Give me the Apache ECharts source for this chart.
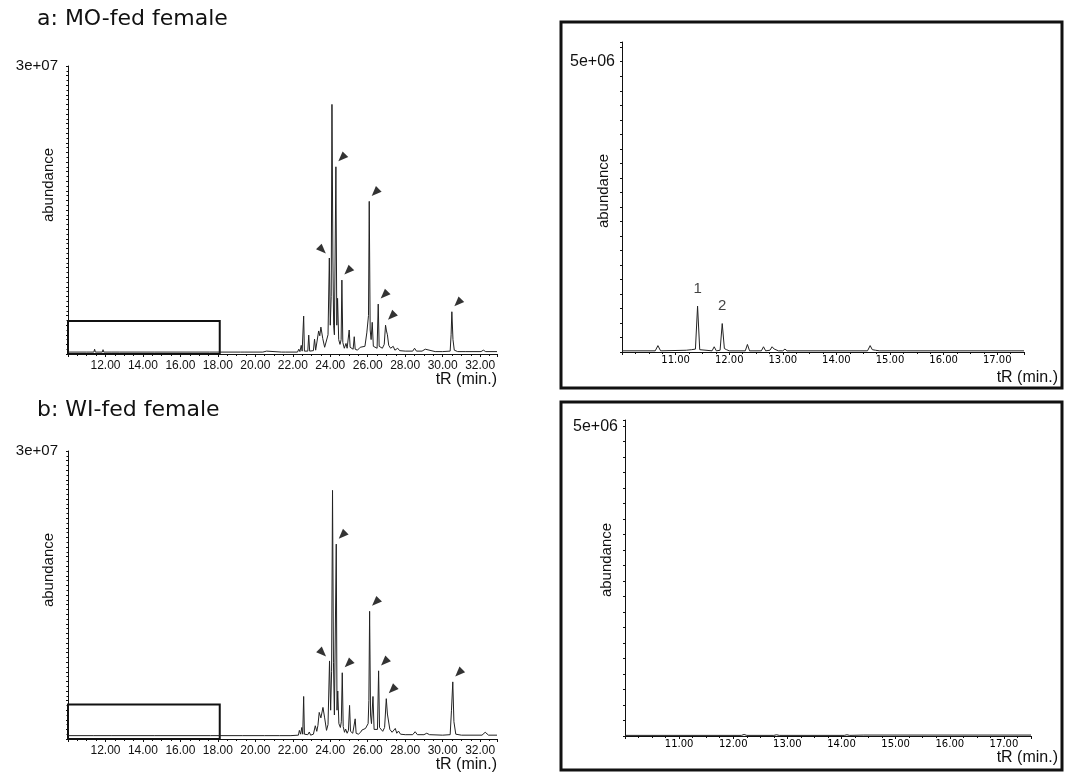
<!DOCTYPE html>
<html>
<head>
<meta charset="utf-8">
<script src="https://cdn.jsdelivr.net/npm/echarts@6/dist/echarts.min.js"></script>
<style>
html,body{margin:0;padding:0;background:#fff;}
#c{width:1070px;height:773px;}
</style>
</head>
<body>
<div id="c"></div>
<script>
// ---------- DATA ----------
const panelTitles = ['a: MO-fed female', 'b: WI-fed female'];
const yMaxLabelMain = '3e+07';
const yMaxLabelZoom = '5e+06';
const xName = 'tR (min.)';
const yName = 'abundance';

// a: full chromatogram [tR (min), abundance]
const traceA = [[10.0,0.2e6],[11.0,0.2e6],[11.38,0.2e6],[11.42,0.5e6],[11.46,0.2e6],[11.83,0.2e6],[11.87,0.45e6],[11.91,0.2e6],[12.3,0.2e6],[12.34,0.3e6],[12.38,0.2e6],[12.76,0.2e6],[12.8,0.32e6],[12.84,0.2e6],[14.6,0.2e6],[14.64,0.3e6],[14.68,0.2e6],[17.55,0.2e6],[17.6,0.3e6],[17.65,0.2e6],
[19.2,0.2e6],[19.3,0.3e6],[19.4,0.2e6],[20.4,0.2e6],[20.5,0.35e6],[20.6,0.3e6],[20.7,0.2e6],[21.4,0.2e6],[21.5,0.3e6],[21.6,0.2e6],[22.25,0.2e6],[22.32,0.5e6],[22.38,0.25e6],[22.45,0.9e6],[22.5,0.3e6],[22.54,0.3e6],[22.58,3.95e6],[22.62,0.3e6],[22.8,0.3e6],[22.85,1.97e6],[22.9,0.3e6],[23.1,0.35e6],[23.16,1.55e6],[23.22,0.4e6],[23.3,0.6e6],[23.38,2.4e6],[23.44,1.9e6],[23.5,2.8e6],[23.6,1.6e6],[23.7,0.7e6],[23.8,0.6e6],[23.88,2.0e6],[23.95,10.0e6],[24.0,3.0e6],[24.05,6e6],[24.09,26.0e6],[24.14,10e6],[24.18,3e6],[24.22,2e6],[24.3,19.5e6],[24.35,3e6],[24.39,5.8e6],[24.45,1.5e6],[24.52,1.0e6],[24.58,1.5e6],[24.62,7.7e6],[24.67,1.2e6],[24.75,0.6e6],[24.84,1.1e6],[24.9,0.6e6],[24.96,0.8e6],[25.01,2.5e6],[25.06,0.7e6],[25.15,0.5e6],[25.22,0.5e6],[25.28,1.8e6],[25.33,0.5e6],[25.45,0.4e6],[25.6,0.7e6],[25.7,0.5e6],[25.85,0.8e6],[25.95,2.2e6],[26.0,2.0e6],[26.04,4e6],[26.08,15.9e6],[26.13,2.5e6],[26.18,1.5e6],[26.24,3.3e6],[26.3,0.8e6],[26.4,0.6e6],[26.5,0.6e6],[26.56,5.2e6],[26.61,0.8e6],[26.7,1.0e6],[26.78,0.6e6],[26.88,1.0e6],[26.95,3.0e6],[27.0,2.4e6],[27.05,2.0e6],[27.12,0.9e6],[27.22,0.6e6],[27.3,0.6e6],[27.36,0.8e6],[27.45,0.4e6],[27.6,0.6e6],[27.7,0.35e6],[28.0,0.3e6],[28.4,0.3e6],[28.5,0.6e6],[28.6,0.3e6],[28.9,0.3e6],[29.0,0.45e6],[29.07,0.5e6],[29.15,0.3e6],[29.6,0.25e6],[30.0,0.25e6],[30.4,0.3e6],[30.45,2e6],[30.49,4.4e6],[30.55,1.5e6],[30.62,0.4e6],[30.8,0.25e6],[31.2,0.25e6],[32.05,0.25e6],[32.17,0.4e6],[32.3,0.25e6],[32.9,0.25e6]];

// b: full chromatogram
const traceB = [[10.0,0.35e6],[11.38,0.35e6],[11.42,0.45e6],[11.46,0.35e6],[12.3,0.35e6],[12.34,0.42e6],[12.38,0.35e6],[14.6,0.35e6],[14.64,0.42e6],[14.68,0.35e6],[17.6,0.35e6],[19.3,0.35e6],[19.35,0.45e6],[19.4,0.35e6],[20.5,0.35e6],[20.55,0.5e6],[20.6,0.35e6],[21.3,0.35e6],[21.35,0.45e6],[21.4,0.35e6],[21.9,0.35e6],[21.95,0.5e6],[22.0,0.35e6],[22.3,0.4e6],[22.35,0.9e6],[22.42,0.5e6],[22.48,1.2e6],[22.53,0.5e6],[22.58,4.43e6],[22.62,0.5e6],[22.8,0.45e6],[22.88,0.73e6],[22.95,0.4e6],[23.1,0.5e6],[23.2,1.38e6],[23.28,0.8e6],[23.34,1.4e6],[23.41,2.77e6],[23.5,2.2e6],[23.61,3.29e6],[23.7,2.2e6],[23.8,0.9e6],[23.88,1.5e6],[23.96,8.13e6],[24.02,3e6],[24.07,7e6],[24.12,25.9e6],[24.17,8e6],[24.22,2.5e6],[24.26,2.5e6],[24.32,20.3e6],[24.36,3e6],[24.4,5.0e6],[24.46,1.6e6],[24.54,1.2e6],[24.59,1.8e6],[24.64,6.9e6],[24.69,1.3e6],[24.76,0.7e6],[24.82,1.04e6],[24.9,0.6e6],[24.97,0.9e6],[25.03,3.5e6],[25.08,0.8e6],[25.2,0.6e6],[25.27,0.7e6],[25.33,2.1e6],[25.38,0.6e6],[25.5,0.5e6],[25.62,0.7e6],[25.69,0.93e6],[25.78,0.8e6],[25.88,1.1e6],[25.95,1.35e6],[26.02,1.6e6],[26.06,4e6],[26.1,13.3e6],[26.15,2.5e6],[26.2,1.6e6],[26.28,4.43e6],[26.34,1.0e6],[26.42,0.9e6],[26.52,1.0e6],[26.58,7.1e6],[26.63,1.2e6],[26.72,1.0e6],[26.8,0.8e6],[26.9,1.2e6],[26.99,4.2e6],[27.05,2.6e6],[27.11,2.4e6],[27.18,1.0e6],[27.3,0.7e6],[27.4,0.7e6],[27.47,1.1e6],[27.55,0.6e6],[27.64,0.83e6],[27.75,0.5e6],[28.0,0.45e6],[28.4,0.45e6],[28.53,0.76e6],[28.65,0.45e6],[29.0,0.45e6],[29.15,0.6e6],[29.3,0.45e6],[30.0,0.4e6],[30.4,0.45e6],[30.47,3e6],[30.54,5.95e6],[30.6,1.8e6],[30.7,0.5e6],[31.0,0.4e6],[32.1,0.4e6],[32.27,0.7e6],[32.45,0.4e6],[32.9,0.4e6]];

// a: enlarged 10-17.5 min
const traceAZoom = [[10.0,0.02e6],[10.62,0.02e6],[10.67,0.11e6],[10.72,0.02e6],[11.2,0.03e6],[11.3,0.04e6],[11.37,0.05e6],[11.41,0.79e6],[11.45,0.04e6],[11.68,0.02e6],[11.72,0.09e6],[11.76,0.02e6],[11.83,0.03e6],[11.87,0.49e6],[11.91,0.06e6],[11.95,0.04e6],[12.0,0.02e6],[12.3,0.02e6],[12.34,0.13e6],[12.38,0.02e6],[12.6,0.02e6],[12.64,0.09e6],[12.68,0.02e6],[12.76,0.03e6],[12.8,0.09e6],[12.84,0.05e6],[12.87,0.06e6],[12.92,0.02e6],[13.0,0.02e6],[13.04,0.05e6],[13.08,0.02e6],[14.58,0.02e6],[14.63,0.11e6],[14.67,0.04e6],[14.73,0.03e6],[14.8,0.02e6],[15.3,0.02e6],[17.5,0.02e6]];

// b: enlarged 10-17.5 min
const traceBZoom = [[10.0,0.01e6],[12.15,0.01e6],[12.2,0.025e6],[12.25,0.01e6],[12.75,0.01e6],[12.8,0.02e6],[12.85,0.01e6],[14.05,0.01e6],[14.1,0.02e6],[14.15,0.01e6],[14.4,0.015e6],[17.5,0.015e6]];

// arrow-marked peaks [tR, abundance, side]
const arrowsA = [[23.95,10.0e6,'left'],[24.30,19.5e6,'right'],[24.62,7.7e6,'right'],[26.08,15.9e6,'right'],[26.56,5.2e6,'right'],[26.95,3.0e6,'right'],[30.49,4.4e6,'right']];
const arrowsB = [[23.96,8.13e6,'left'],[24.32,20.3e6,'right'],[24.64,6.9e6,'right'],[26.10,13.3e6,'right'],[26.58,7.1e6,'right'],[26.99,4.2e6,'right'],[30.54,5.95e6,'right']];

// numbered peaks in enlarged a
const numberedPeaks = [[11.41,0.79e6,'1'],[11.87,0.49e6,'2']];

// enlarged region box [tR from, tR to, abundance top]
const boxA = [10, 18.1, 3.45e6];
const boxB = [10, 18.1, 3.6e6];

// ---------- CHART ----------
const FONT = '"Liberation Sans", Arial, sans-serif';
const TITLEFONT = '"DejaVu Sans", "Liberation Sans", sans-serif';
const INK = '#111';
const chart = echarts.init(document.getElementById('c'), null, {renderer:'canvas'});

const grids = [
  {left:68, top:66, width:429, height:288},
  {left:622, top:42, width:402, height:310},
  {left:68, top:451, width:429, height:290},
  {left:625, top:420, width:406, height:316}
];

function fmtX(v){
  if (v === 10 || Math.abs(v - Math.round(v)) > 1e-6) return '';
  return v.toFixed(2);
}

function xAxisMain(gi){
  return {
    type:'value', gridIndex:gi, min:10, max:32.9, interval:2,
    axisLine:{show:true, lineStyle:{color:INK, width:1.2}},
    axisTick:{show:true, length:3, lineStyle:{color:INK}},
    minorTick:{show:true, splitNumber:4, length:2, lineStyle:{color:INK}},
    splitLine:{show:false}, minorSplitLine:{show:false},
    axisLabel:{formatter:fmtX, color:INK, fontFamily:FONT, fontSize:12, margin:6, showMaxLabel:false},
    name:xName, nameLocation:'end', nameGap:0, nameMoveOverlap:false,
    nameTextStyle:{fontFamily:FONT, fontSize:16, color:INK, align:'right', verticalAlign:'top', padding:[18,0,0,0]}
  };
}
function xAxisZoom(gi, gap, pad){
  return {
    type:'value', gridIndex:gi, min:10, max:17.5, interval:1,
    axisLine:{show:true, lineStyle:{color:INK, width:1.2}},
    axisTick:{show:true, length:3, lineStyle:{color:INK}},
    minorTick:{show:true, splitNumber:4, length:2, lineStyle:{color:INK}},
    splitLine:{show:false}, minorSplitLine:{show:false},
    axisLabel:{formatter:fmtX, color:'#000', fontFamily:'"DejaVu Sans", sans-serif', fontSize:10, margin:3, showMaxLabel:false},
    name:xName, nameLocation:'end', nameGap:gap, nameMoveOverlap:false,
    nameTextStyle:{fontFamily:FONT, fontSize:16, color:INK, align:'right', verticalAlign:'top', padding:[pad,0,0,0]}
  };
}
function yAxisMain(gi, padB){
  return {
    type:'value', gridIndex:gi, min:0, max:30e6, interval:1e6,
    axisLine:{show:true, lineStyle:{color:INK, width:1}},
    axisTick:{show:true, length:2, lineStyle:{color:INK}},
    minorTick:{show:true, splitNumber:2, length:1.5, lineStyle:{color:INK}},
    splitLine:{show:false}, minorSplitLine:{show:false},
    axisLabel:{formatter:v => v === 30e6 ? yMaxLabelMain : '', color:INK, fontFamily:FONT, fontSize:15, margin:10, padding:[0,0,padB,0]}
  };
}
function yAxisZoom(gi, max){
  return {
    type:'value', gridIndex:gi, min:0, max:max, interval:0.25e6,
    axisLine:{show:true, lineStyle:{color:INK, width:1}},
    axisTick:{show:true, length:2, lineStyle:{color:INK}},
    splitLine:{show:false},
    axisLabel:{formatter:v => v === 5e6 ? yMaxLabelZoom : '', color:INK, fontFamily:FONT, fontSize:16, margin:7}
  };
}

function trace(idx, data, box){
  const s = {
    type:'line', xAxisIndex:idx, yAxisIndex:idx, data:data,
    showSymbol:false, symbol:'none', sampling:'none', smooth:false,
    lineStyle:{color:'#222', width:1}, silent:true, z:3
  };
  if (box) {
    s.markArea = {
      silent:true,
      itemStyle:{color:'rgba(0,0,0,0)', borderColor:'#111', borderWidth:2},
      data:[[{coord:[box[0],0]},{coord:[box[1],box[2]]}]]
    };
  }
  return s;
}
function arrows(idx, list){
  return {
    type:'scatter', xAxisIndex:idx, yAxisIndex:idx, silent:true, z:5,
    data:list.map(p => ({
      value:[p[0], p[1]],
      symbolRotate: p[2] === 'right' ? 135 : -135,
      symbolOffset: p[2] === 'right' ? [6,-9] : [-7,-8]
    })),
    symbol:'triangle', symbolSize:[8,10],
    itemStyle:{color:'#000'}
  };
}

const option = {
  animation:false,
  backgroundColor:'#fff',
  title:[
    {text:panelTitles[0], left:37, top:8, padding:0, textStyle:{fontFamily:TITLEFONT, fontSize:22, fontWeight:'normal', color:INK}},
    {text:panelTitles[1], left:37, top:399, padding:0, textStyle:{fontFamily:TITLEFONT, fontSize:22, fontWeight:'normal', color:INK}}
  ],
  grid:grids,
  xAxis:[xAxisMain(0), xAxisZoom(1, 34, 18), xAxisMain(2), xAxisZoom(3, 27, 14)],
  yAxis:[yAxisMain(0, 9), yAxisZoom(1, 5.34e6), yAxisMain(2, 12), yAxisZoom(3, 5.1e6)],
  graphic:[
    {type:'rect', shape:{x:561, y:22, width:501, height:366}, style:{fill:'none', stroke:'#111', lineWidth:3}},
    {type:'rect', shape:{x:561, y:402, width:501, height:368}, style:{fill:'none', stroke:'#111', lineWidth:3}},
    {type:'text', x:49, y:185, rotation:Math.PI/2, style:{text:yName, font:'15px '+FONT, fill:INK, align:'center', verticalAlign:'middle'}},
    {type:'text', x:604, y:191, rotation:Math.PI/2, style:{text:yName, font:'15px '+FONT, fill:INK, align:'center', verticalAlign:'middle'}},
    {type:'text', x:49, y:570, rotation:Math.PI/2, style:{text:yName, font:'15px '+FONT, fill:INK, align:'center', verticalAlign:'middle'}},
    {type:'text', x:607, y:560, rotation:Math.PI/2, style:{text:yName, font:'15px '+FONT, fill:INK, align:'center', verticalAlign:'middle'}}
  ],
  series:[
    trace(0, traceA, boxA),
    arrows(0, arrowsA),
    trace(1, traceAZoom, null),
    {
      type:'scatter', xAxisIndex:1, yAxisIndex:1, silent:true, symbolSize:0,
      data:numberedPeaks.map(p => ({value:[p[0], p[1]], name:p[2]})),
      label:{show:true, position:'top', distance:10, formatter:'{b}', fontFamily:FONT, fontSize:15, color:INK}
    },
    trace(2, traceB, boxB),
    arrows(2, arrowsB),
    trace(3, traceBZoom, null)
  ]
};
chart.setOption(option);
</script>
</body>
</html>
